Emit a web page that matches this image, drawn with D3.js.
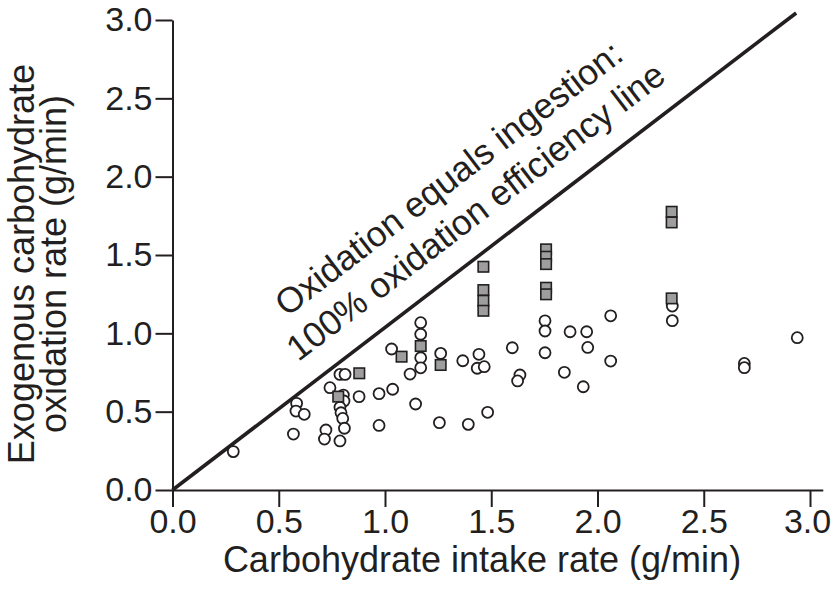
<!DOCTYPE html>
<html>
<head>
<meta charset="utf-8">
<script src="https://cdn.jsdelivr.net/npm/d3@7/dist/d3.min.js"></script>
<style>
body { margin: 0; background: #fff; }
text { font-family: "Liberation Sans", Arial, Helvetica, sans-serif; fill: #231f20; }
</style>
</head>
<body>
<svg id="chart" width="832" height="595"></svg>
<script>
// open circles
const circleX = [0.286, 0.584, 0.581, 0.620, 0.569, 0.741, 0.788, 0.812, 0.804, 0.807,
                 0.788, 0.793, 0.801, 0.809, 0.788, 0.722, 0.715, 0.878, 0.972, 0.972,
                 1.031, 1.168, 1.168, 1.168, 1.168, 1.118, 1.036, 1.144, 1.262, 1.256,
                 1.366, 1.442, 1.434, 1.467, 1.392, 1.483, 1.599, 1.753, 1.753, 1.753,
                 1.635, 1.624, 1.844, 1.871, 1.949, 1.954, 2.062, 2.062, 1.933, 2.352,
                 2.352, 2.691, 2.691, 2.940];
const circleY = [0.245, 0.553, 0.504, 0.483, 0.357, 0.653, 0.738, 0.738, 0.606, 0.568,
                 0.528, 0.493, 0.457, 0.394, 0.313, 0.383, 0.325, 0.596, 0.615, 0.412,
                 0.900, 1.068, 0.994, 0.844, 0.780, 0.740, 0.643, 0.549, 0.872, 0.430,
                 0.825, 0.866, 0.777, 0.787, 0.419, 0.496, 0.908, 1.080, 1.015, 0.876,
                 0.734, 0.696, 0.751, 1.010, 1.010, 0.910, 1.112, 0.823, 0.659, 1.174,
                 1.081, 0.808, 0.781, 0.972];

// grey squares
const squareX = [0.780, 0.879, 1.078, 1.168, 1.262, 1.463, 1.463, 1.463, 1.463,
                 1.758, 1.758, 1.758, 1.758, 1.758, 2.349, 2.349, 2.349];
const squareY = [0.596, 0.745, 0.851, 0.919, 0.798, 1.425, 1.276, 1.208, 1.144,
                 1.536, 1.489, 1.442, 1.291, 1.249, 1.776, 1.708, 1.223];

const xTicks = [0, 0.5, 1.0, 1.5, 2.0, 2.5, 3.0];
const yTicks = [0, 0.5, 1.0, 1.5, 2.0, 2.5, 3.0];
const xTitle = "Carbohydrate intake rate (g/min)";
const yTitle = ["Exogenous carbohydrate", "oxidation rate (g/min)"];
const noteLines = ["Oxidation equals ingestion:", "100% oxidation efficiency line"];
const lineStart = [0, 0];
const lineEnd = [2.935, 3.045];

const ink = "#231f20";
const svg = d3.select("#chart");

const x = d3.scaleLinear().domain([0, 3.06]).range([172.5, 822.75]);
const y = d3.scaleLinear().domain([0, 3]).range([490, 20]);

// axes
const xAxis = svg.append("g")
    .attr("transform", "translate(0," + y(0) + ")")
    .call(d3.axisBottom(x).tickValues(xTicks).tickFormat(d3.format(".1f"))
        .tickSize(17).tickSizeOuter(0).tickPadding(2));

const yAxis = svg.append("g")
    .attr("transform", "translate(" + x(0) + ",0)")
    .call(d3.axisLeft(y).tickValues(yTicks).tickFormat(d3.format(".1f"))
        .tickSize(17).tickSizeOuter(0).tickPadding(3));

[xAxis, yAxis].forEach(g => {
    g.select(".domain").attr("stroke", ink).attr("stroke-width", 2);
    g.selectAll(".tick line").attr("stroke", ink).attr("stroke-width", 2);
    g.selectAll(".tick text").attr("fill", ink)
        .style("font-size", "34px");
});
// last label sits against the right edge
xAxis.selectAll(".tick text").filter(d => d === 3).attr("dx", -3);

// 100% line
svg.append("line")
    .attr("x1", x(lineStart[0])).attr("y1", y(lineStart[1]))
    .attr("x2", x(lineEnd[0])).attr("y2", y(lineEnd[1]))
    .attr("stroke", ink)
    .attr("stroke-width", 3.6);

// note along the line
const angle = Math.atan2(y(lineStart[1]) - y(lineEnd[1]), x(lineEnd[0]) - x(lineStart[0])) * 180 / Math.PI;
const noteCenters = [[456, 188], [483, 221]];
svg.selectAll("text.note")
    .data(noteLines)
    .enter()
    .append("text")
    .attr("class", "note")
    .attr("text-anchor", "middle")
    .attr("transform", (d, i) => "translate(" + noteCenters[i][0] + "," + noteCenters[i][1] + ") rotate(" + (-angle) + ")")
    .style("font-size", "35.5px")
    .text(d => d);

// points
svg.selectAll("circle.pt")
    .data(circleX.map((d, i) => [d, circleY[i]]))
    .enter()
    .append("circle")
    .attr("class", "pt")
    .attr("cx", d => x(d[0]))
    .attr("cy", d => y(d[1]))
    .attr("r", 5.5)
    .attr("fill", "#fff")
    .attr("stroke", ink)
    .attr("stroke-width", 1.8);

const sq = 10.5;
svg.selectAll("rect.pt")
    .data(squareX.map((d, i) => [d, squareY[i]]))
    .enter()
    .append("rect")
    .attr("class", "pt")
    .attr("x", d => x(d[0]) - sq / 2)
    .attr("y", d => y(d[1]) - sq / 2)
    .attr("width", sq)
    .attr("height", sq)
    .attr("fill", "#9e9e9e")
    .attr("stroke", ink)
    .attr("stroke-width", 1.6);

// axis titles
svg.append("text")
    .attr("x", 482)
    .attr("y", 572)
    .attr("text-anchor", "middle")
    .style("font-size", "36px")
    .text(xTitle);

svg.selectAll("text.ytitle")
    .data(yTitle)
    .enter()
    .append("text")
    .attr("class", "ytitle")
    .attr("text-anchor", "middle")
    .attr("transform", (d, i) => "translate(" + (34 + i * 32) + ",264) rotate(-90)")
    .style("font-size", "36px")
    .text(d => d);
</script>
</body>
</html>
